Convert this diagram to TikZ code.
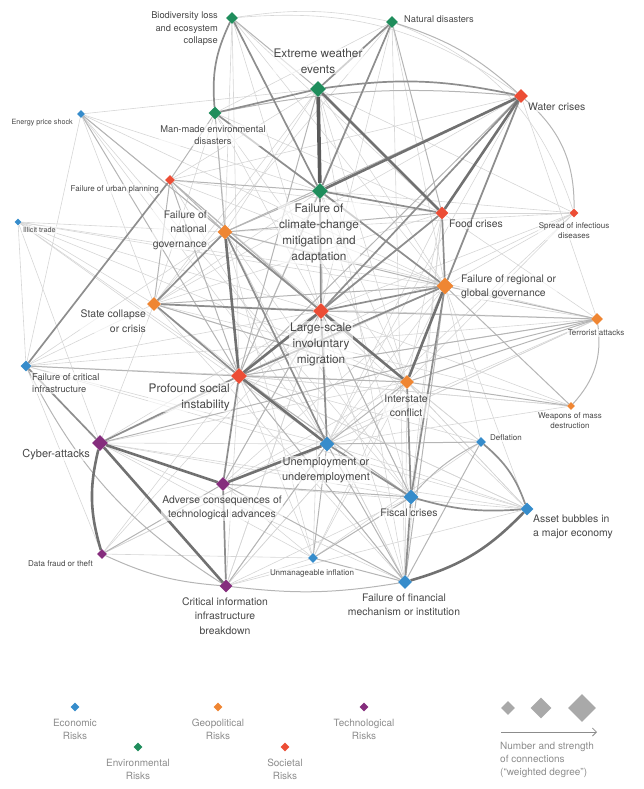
\documentclass[tikz,border=0pt]{standalone}
\usepackage{fontspec}
\setmainfont{TeX Gyre Heros}
\usetikzlibrary{shapes.geometric,backgrounds,positioning,arrows.meta}

\definecolor{econ}{HTML}{368CCB}
\definecolor{envi}{HTML}{1F8D5C}
\definecolor{geop}{HTML}{EF8633}
\definecolor{soci}{HTML}{EC4D35}
\definecolor{tech}{HTML}{852D7D}
\definecolor{labgray}{HTML}{474747}
\definecolor{leggray}{HTML}{8C8C8C}
\definecolor{sizegray}{HTML}{A9A9A9}
\definecolor{edgeA}{HTML}{5A5A5A}
\definecolor{edgeB}{HTML}{717171}
\definecolor{edgeC}{HTML}{8E8E8E}
\definecolor{edgeD}{HTML}{B5B5B5}
\definecolor{edgeE}{HTML}{D6D6D6}

\tikzset{
  risk/.style={diamond, aspect=1, inner sep=0pt, minimum size=#1pt},
  lab/.style={text=labgray, align=center, inner sep=1pt, fill=white, fill opacity=0.6, text opacity=1},
  labA/.style={lab, font=\fontsize{11.8}{16}\selectfont},
  labAb/.style={lab, font=\fontsize{11}{15}\selectfont},
  labB/.style={lab, font=\fontsize{10.4}{14.5}\selectfont},
  labC/.style={lab, font=\fontsize{9.3}{12.5}\selectfont},
  labD/.style={lab, font=\fontsize{8}{10}\selectfont},
  labE/.style={lab, font=\fontsize{7.2}{9}\selectfont},
  legtxt/.style={text=leggray, align=center, inner sep=0pt, font=\fontsize{10}{13}\selectfont},
  e4/.style={line width=3.6pt, draw=edgeA},
  e3/.style={line width=2.6pt, draw=edgeB},
  e2/.style={line width=1.7pt, draw=edgeC},
  e1/.style={line width=1pt, draw=edgeD},
  e0/.style={line width=0.6pt, draw=edgeE}
}

\begin{document}
\begin{tikzpicture}[x=1pt,y=-1pt]
\useasboundingbox (0,0) rectangle (643,789);

% labels
\node[labA] (extT) at (318,61) {Extreme weather\\events};
\node[labA] (cliT) at (319,233) {Failure of\\climate-change\\mitigation and\\adaptation};
\node[labA] (migT) at (321,344) {Large-scale\\involuntary\\migration};
\node[labA, anchor=east, align=right] (socT) at (231,397) {Profound social\\instability};
\node[labAb] (uneT) at (326,470) {Unemployment or\\underemployment};
\node[labAb, anchor=east] (cybT) at (91,455) {Cyber-attacks};

\node[labB, anchor=west] (watT) at (527,107) {Water crises};
\node[labB, anchor=west] (fooT) at (448,224) {Food crises};
\node[labB, anchor=west, align=left] (rggT) at (460,287) {Failure of regional or\\global governance};
\node[labB, anchor=east, align=right] (nagT) at (208,230) {Failure of\\national\\governance};
\node[labB, anchor=east, align=right] (staT) at (147,321) {State collapse\\or crisis};
\node[labB] (intT) at (406,406) {Interstate\\conflict};
\node[labB] (fisT) at (409,513) {Fiscal crises};
\node[labB, anchor=west, align=left] (assT) at (532,527) {Asset bubbles in\\a major economy};
\node[labB] (advT) at (222,508) {Adverse consequences of\\technological advances};
\node[labB] (ffmT) at (404,605) {Failure of financial\\mechanism or institution};
\node[labB] (ciiT) at (225,616) {Critical information\\infrastructure\\breakdown};

\node[labC, anchor=east, align=right] (bioT) at (219,29) {Biodiversity loss\\and ecosystem\\collapse};
\node[labC, anchor=west] (natT) at (403,19) {Natural disasters};
\node[labC] (manT) at (213,135) {Man-made environmental\\disasters};
\node[labC, anchor=west, align=left] (fciT) at (31,383) {Failure of critical\\infrastructure};

\node[labD, anchor=east] (urbT) at (160,189) {Failure of urban planning};
\node[labD] (infT) at (574,231) {Spread of infectious\\diseases};
\node[labD] (terT) at (596,333) {Terrorist attacks};
\node[labD] (wmdT) at (570,421) {Weapons of mass\\destruction};
\node[labD, anchor=west] (defT) at (489,438) {Deflation};
\node[labD, anchor=east] (datT) at (94,564) {Data fraud or theft};
\node[labD] (unmT) at (312,573) {Unmanageable inflation};

\node[labE, anchor=east] (eneT) at (74,123) {Energy price shock};
\node[labE, anchor=west] (illT) at (22,230) {Illicit trade};

% environmental risks
\node[risk=16, fill=envi] (ext) at (318,89) {};
\node[risk=16, fill=envi] (cli) at (320,191) {};
\node[risk=12, fill=envi] (bio) at (232,18) {};
\node[risk=12, fill=envi] (nat) at (392,22) {};
\node[risk=13, fill=envi] (man) at (215,113) {};
% societal risks
\node[risk=14, fill=soci] (wat) at (521,96) {};
\node[risk=13, fill=soci] (foo) at (442,213) {};
\node[risk=9, fill=soci] (inf) at (574,213) {};
\node[risk=10, fill=soci] (urb) at (170,180) {};
\node[risk=16, fill=soci] (mig) at (321,311) {};
\node[risk=16, fill=soci] (soc) at (239,376) {};
% geopolitical risks
\node[risk=15, fill=geop] (nag) at (225,232) {};
\node[risk=17, fill=geop] (rgg) at (445,286) {};
\node[risk=14, fill=geop] (sta) at (154,304) {};
\node[risk=12, fill=geop] (ter) at (597,319) {};
\node[risk=14, fill=geop] (int) at (407,382) {};
\node[risk=8, fill=geop] (wmd) at (571,406) {};
% economic risks
\node[risk=8, fill=econ] (ene) at (81,114) {};
\node[risk=7, fill=econ] (ill) at (18,222) {};
\node[risk=11, fill=econ] (fci) at (26,366) {};
\node[risk=10, fill=econ] (def) at (481,442) {};
\node[risk=15, fill=econ] (une) at (327,444) {};
\node[risk=15, fill=econ] (fis) at (411,497) {};
\node[risk=13, fill=econ] (ass) at (527,509) {};
\node[risk=10, fill=econ] (unm) at (313,558) {};
\node[risk=14, fill=econ] (ffm) at (405,582) {};
% technological risks
\node[risk=16, fill=tech] (cyb) at (100,443) {};
\node[risk=14, fill=tech] (adv) at (223,484) {};
\node[risk=10, fill=tech] (dat) at (102,554) {};
\node[risk=13, fill=tech] (cii) at (226,586) {};

\begin{scope}[on background layer]
% faint links
\foreach \a/\b in {ene/ext, ene/cli, ene/nag, ene/sta, ene/une, ene/int, ene/fci, ene/rgg, ene/fis,
    ill/nag, ill/sta, ill/mig, ill/soc, ill/rgg, ill/int, ill/ter, ill/fci, ill/une, ill/cyb,
    inf/foo, inf/rgg, inf/mig, inf/soc, inf/nag, inf/cli, inf/ext, inf/int, inf/une,
    ter/sta, ter/nag, ter/une, ter/fci, ter/adv, wmd/mig, wmd/soc, wmd/sta, wmd/une,
    def/int, def/soc, def/mig, def/unm, def/rgg, unm/mig, unm/soc, unm/adv, unm/cii, unm/int, unm/rgg,
    dat/une, dat/soc, dat/fci, dat/mig, dat/unm, cii/fis, cii/soc, cii/mig, cii/int,
    ffm/int, ffm/cyb, ffm/sta, ffm/nag, ffm/mig, ass/soc, ass/cyb, ass/mig, ass/fci, ass/adv, ass/int, ass/cii,
    urb/ext, urb/wat, urb/foo, urb/rgg, urb/int, urb/une, man/foo, man/rgg, man/mig, man/soc, man/int, man/sta,
    nat/soc, nat/rgg, nat/mig, nat/man, nat/sta, nat/ffm, bio/foo, bio/mig, bio/soc, bio/rgg, bio/nag,
    ext/nag, ext/rgg, ext/int, ext/sta, ext/ffm, wat/sta, wat/une, wat/ter,
    foo/int, foo/une, foo/fis, foo/sta, foo/ter, foo/ffm, rgg/adv, rgg/ass, rgg/une, rgg/cyb,
    int/cyb, int/ass, int/adv, int/cii, une/ass, une/cyb, une/ter, une/cii, une/dat,
    soc/fis, soc/ffm, soc/ass, soc/ter, soc/wmd, mig/fis, mig/adv, mig/cyb, mig/cii,
    sta/cyb, sta/une, sta/int, nag/fis, nag/unm, nag/int, nag/ffm,
    cli/sta, cli/int, cli/une, cli/fis, fci/mig, fci/une, fci/sta, fci/nag, fci/int, cyb/fis, cyb/unm}
  \draw[e0] (\a) -- (\b);
\draw[e0] (bio) to[bend left=20] (wat);
\draw[e0] (nat) to[bend left=25] (inf);
\draw[e0] (bio) to[bend left=10] (nat);

% light links
\foreach \a/\b in {ene/soc, ene/mig, fci/soc, ter/rgg, ter/mig, ter/soc, ter/int, ter/cyb, wmd/int, wmd/rgg,
    def/une, def/ffm, unm/une, unm/ffm, unm/fis, dat/adv, cii/une, ffm/une, ffm/rgg, ffm/soc, ffm/adv,
    adv/fis, adv/mig, fis/soc, fis/mig, urb/mig, urb/soc, urb/cli, urb/man, urb/sta, urb/nag,
    man/nag, nat/foo, bio/ext, ext/soc, ext/mig, wat/soc, wat/nag, wat/int,
    foo/soc, foo/nag, rgg/soc, rgg/nag, rgg/sta, int/soc, int/une, int/sta, cli/nag, cli/soc}
  \draw[e1] (\a) -- (\b);
\draw[e1] (wat) to[bend left=25] (inf);
\draw[e1] (ter) to[bend left=25] (wmd);
\draw[e1] (def) to[bend right=10] (fis);
\draw[e1] (dat) to[bend right=10] (cii);
\draw[e1] (cii) to[bend right=8] (ffm);
\draw[e1] (nat) to[bend left=12] (wat);
\draw[e1] (man) to[bend left=8] (wat);
\draw[e1] (fci) to[bend right=15] (cii);

% medium links
\foreach \a/\b in {cli/foo, bio/cli, man/ext, man/cli, nat/cli, nat/ext, nag/mig, nag/sta, sta/soc, sta/mig,
    fci/urb, rgg/mig, rgg/foo, rgg/wat, soc/adv, soc/cyb, mig/une, une/fis, int/fis, adv/cii,
    fis/ffm, cli/mig, cli/rgg, wat/mig, foo/mig, soc/rgg, rgg/fis, nag/une, fci/cyb}
  \draw[e2] (\a) -- (\b);
\draw[e2] (bio) to[bend right=15] (man);
\draw[e2] (ext) to[bend left=10] (wat);
\draw[e2] (def) to[bend left=15] (ass);
\draw[e2] (fis) to[bend right=10] (ass);

% strong links
\foreach \a/\b in {ext/foo, cli/wat, foo/wat, soc/une, soc/mig, une/adv, mig/int, int/rgg,
    cyb/adv, cyb/cii, nag/soc}
  \draw[e3] (\a) -- (\b);
\draw[e3] (ffm) to[bend right=15] (ass);
\draw[e3] (cyb) to[bend right=15] (dat);

% strongest link
\draw[e4] (ext) -- (cli);
\end{scope}

% legend
\node[risk=9, fill=econ] (legEco) at (75,707) {};
\node[legtxt] (legEcoT) at (75,729.5) {Economic\\Risks};
\node[risk=9, fill=envi] (legEnv) at (138,747) {};
\node[legtxt] (legEnvT) at (138,769.5) {Environmental\\Risks};
\node[risk=9, fill=geop] (legGeo) at (218,707) {};
\node[legtxt] (legGeoT) at (218,729.5) {Geopolitical\\Risks};
\node[risk=9, fill=soci] (legSoc) at (285,747) {};
\node[legtxt] (legSocT) at (285,769.5) {Societal\\Risks};
\node[risk=9, fill=tech] (legTec) at (364,707) {};
\node[legtxt] (legTecT) at (364,729.5) {Technological\\Risks};

\node[risk=14, fill=sizegray] (sizeS) at (508,708) {};
\node[risk=21, fill=sizegray] (sizeM) at (541,708) {};
\node[risk=28, fill=sizegray] (sizeL) at (582,708) {};
\coordinate (arrS) at (501,732);
\coordinate (arrE) at (597,732);
\draw[-{Straight Barb[length=4pt,width=8pt]}, draw=leggray, line width=0.8pt] (arrS) -- (arrE);
\node[legtxt, anchor=north west, align=left] (legNote) at (500,742) {Number and strength\\of connections\\(“weighted degree”)};
\end{tikzpicture}
\end{document}
